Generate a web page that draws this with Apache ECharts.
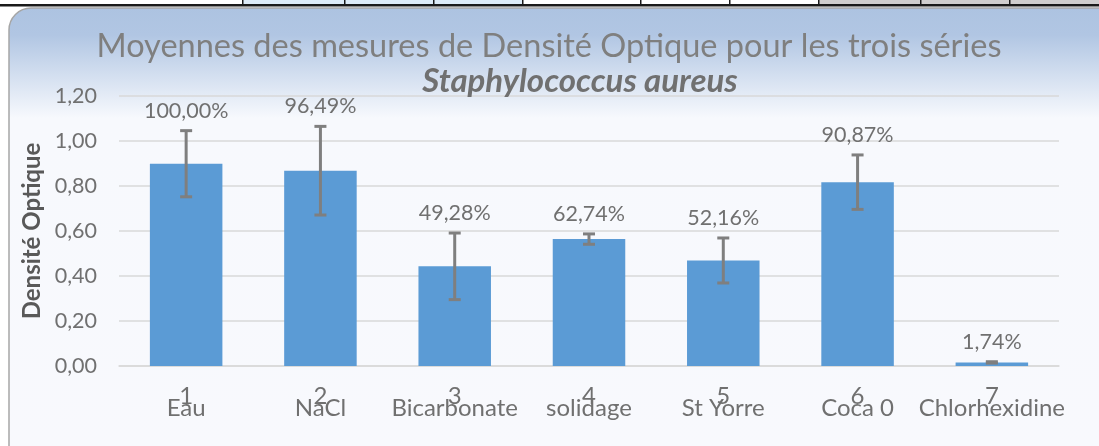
<!DOCTYPE html>
<html><head><meta charset="utf-8">
<script src="https://cdn.jsdelivr.net/npm/echarts@6/dist/echarts.min.js"></script>
<style>html,body{margin:0;padding:0;background:#fff;}#c{width:1099px;height:446px;}</style>
</head><body><div id="c"></div>
<script>
const categories = ['Eau', 'NaCl', 'Bicarbonate', 'solidage', 'St Yorre', 'Coca 0', 'Chlorhexidine'];
const catNumbers = ['1', '2', '3', '4', '5', '6', '7'];
const means = [0.899, 0.868, 0.443, 0.564, 0.469, 0.817, 0.016];
const errors = [0.147, 0.197, 0.148, 0.023, 0.100, 0.121, 0.003];
const pctLabels = ['100,00%', '96,49%', '49,28%', '62,74%', '52,16%', '90,87%', '1,74%'];
const yTicks = { min: 0, max: 1.2, interval: 0.2 };
const titleText = 'Moyennes des mesures de Densité Optique pour les trois séries';
const subtitleText = 'Staphylococcus aureus';
const yName = 'Densité Optique';

const FONT = 'Lato';
const chart = echarts.init(document.getElementById('c'), null, {renderer: 'canvas'});

const cellLines = [242, 344, 433, 522, 640, 729, 818, 920, 1009];
const graphics = [
  {type: 'rect', z: -10, shape: {x: 242, y: 0, width: 280, height: 5}, style: {fill: '#ddebf7'}},
  {type: 'rect', z: -10, shape: {x: 818, y: 0, width: 281, height: 5}, style: {fill: '#d0cece'}},
  {type: 'rect', z: -10, shape: {x: 0, y: 4, width: 1099, height: 2.5}, style: {fill: '#1a1a1a'}},
  {type: 'rect', z: -9, shape: {x: 9, y: 8, width: 1110, height: 460, r: 22},
    style: {fill: new echarts.graphic.LinearGradient(0, 0, 0, 1, [
      {offset: 0, color: '#adc3e1'}, {offset: 0.06, color: '#b1c6e3'},
      {offset: 0.24, color: '#f7f9fd'}, {offset: 1, color: '#f8f9fd'}]),
      stroke: '#a6a6a6', lineWidth: 1.5}},
  {type: 'text', z: 10, style: {text: titleText, x: 549, y: 47, textAlign: 'center', textVerticalAlign: 'middle',
    font: '32.5px ' + FONT, fill: '#7f7f7f'}},
  {type: 'text', z: 10, style: {text: subtitleText, x: 580, y: 81, textAlign: 'center', textVerticalAlign: 'middle',
    font: 'italic bold 33px ' + FONT, fill: '#707070'}}
];
cellLines.forEach(x => graphics.push({type: 'rect', z: -10, shape: {x: x, y: 0, width: 1.5, height: 5}, style: {fill: '#1a1a1a'}}));

const errData = means.map((m, i) => [i, m - errors[i], m + errors[i]]);

chart.setOption({
  animation: false,
  backgroundColor: '#ffffff',
  graphic: graphics,
  grid: {left: 119, right: 40, top: 96, bottom: 80},
  xAxis: {
    type: 'category', data: categories,
    axisLine: {lineStyle: {color: '#d9d9d9', width: 1.5}},
    axisTick: {show: false},
    axisLabel: {
      margin: 25, interval: 0,
      formatter: (v, i) => '{n|' + catNumbers[i] + '}\n{c|' + v + '}',
      rich: {
        n: {fontFamily: FONT, fontSize: 24, color: '#707070', lineHeight: 10},
        c: {fontFamily: FONT, fontSize: 24, color: '#707070', lineHeight: 15}
      }
    }
  },
  yAxis: {
    type: 'value', min: yTicks.min, max: yTicks.max, interval: yTicks.interval,
    name: yName, nameLocation: 'middle', nameGap: 74, nameRotate: 90,
    nameTextStyle: {fontFamily: FONT, fontSize: 24, fontWeight: 'bold', color: '#595959'},
    axisLine: {show: false}, axisTick: {show: false},
    axisLabel: {margin: 22, fontFamily: FONT, fontSize: 21.5, color: '#707070',
      formatter: v => v.toFixed(2).replace('.', ',')},
    splitLine: {lineStyle: {color: '#d9d9d9', width: 1.5}}
  },
  series: [
    {type: 'bar', data: means, barWidth: '54%', itemStyle: {color: '#5b9bd5'}, z: 2},
    {type: 'custom', z: 5, data: errData,
      renderItem: (params, api) => {
        const x = api.coord([api.value(0), 0])[0];
        const lo = api.coord([api.value(0), api.value(1)])[1];
        const hi = api.coord([api.value(0), api.value(2)])[1];
        const cap = 6;
        const st = {stroke: '#7f7f7f', lineWidth: 3};
        return {type: 'group', children: [
          {type: 'line', shape: {x1: x, y1: lo, x2: x, y2: hi}, style: st},
          {type: 'line', shape: {x1: x - cap, y1: lo, x2: x + cap, y2: lo}, style: st},
          {type: 'line', shape: {x1: x - cap, y1: hi, x2: x + cap, y2: hi}, style: st},
          {type: 'text', style: {text: pctLabels[params.dataIndex], x: x, y: hi - 9,
            textAlign: 'center', textVerticalAlign: 'bottom', font: '21.5px ' + FONT, fill: '#707070'}}
        ]};
      }}
  ]
});
</script></body></html>
